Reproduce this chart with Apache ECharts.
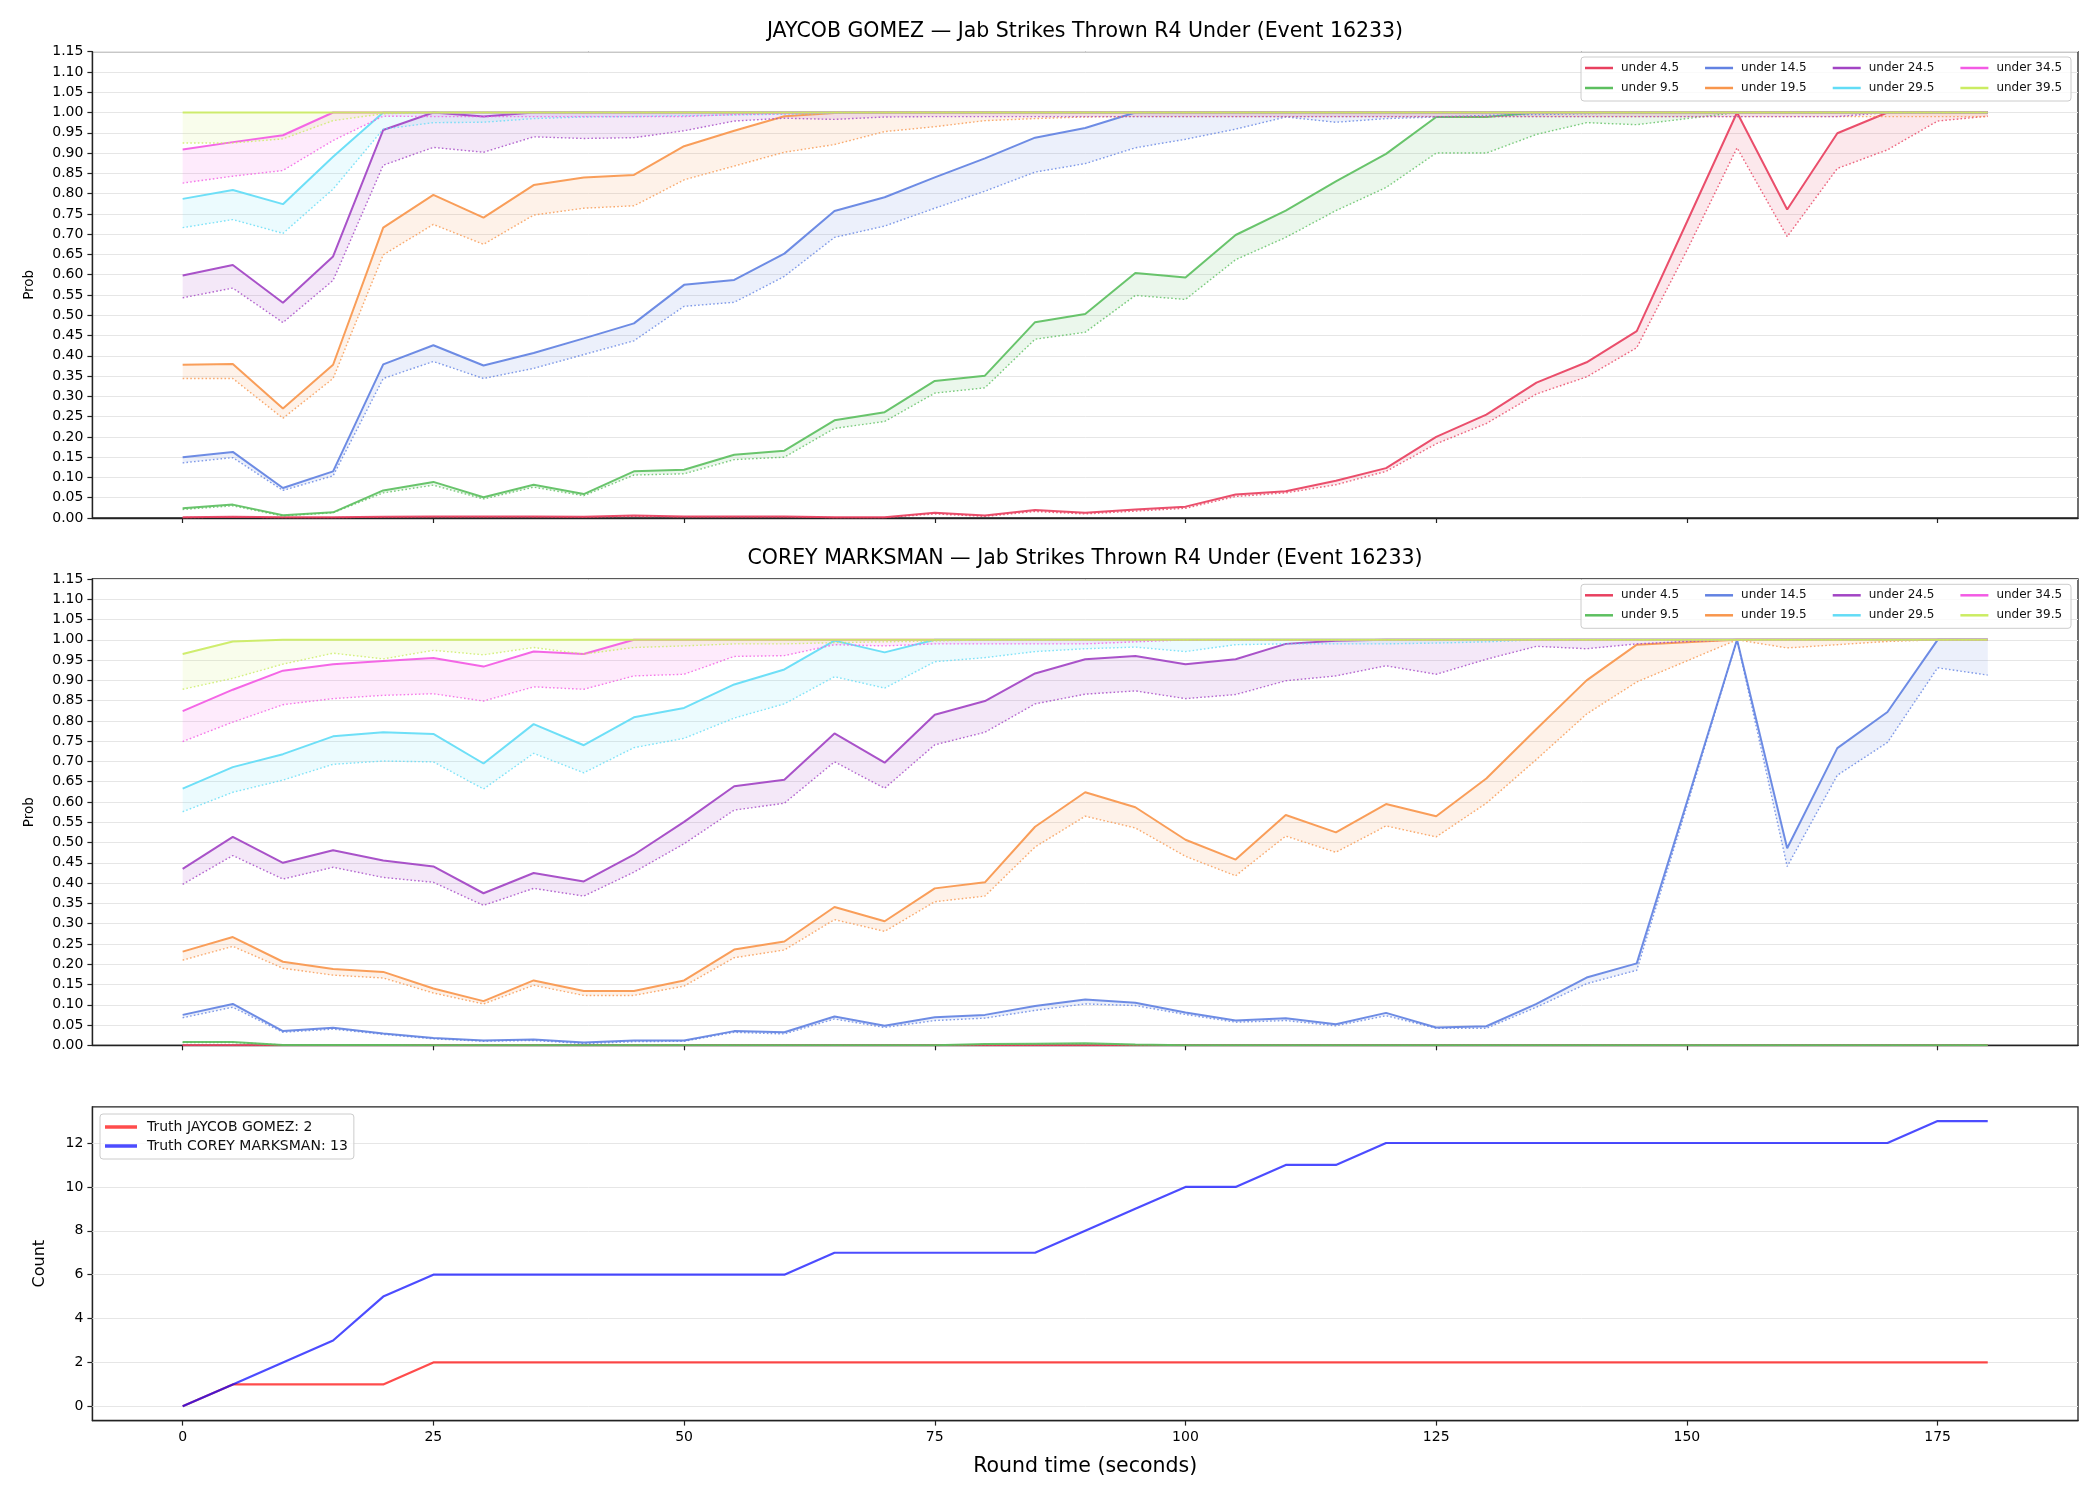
<!DOCTYPE html>
<html>
<head>
<meta charset="utf-8">
<script src="https://cdn.jsdelivr.net/npm/echarts@6/dist/echarts.min.js"></script>
<style>
html, body {margin: 0; padding: 0; background: #fff}
#chart {width: 2100px; height: 1500px}
</style>
</head>
<body>
<div id="chart"></div>
<script>
const rounds = [0, 5, 10, 15, 20, 25, 30, 35, 40, 45, 50, 55, 60, 65, 70, 75, 80, 85, 90, 95, 100, 105, 110, 115, 120, 125, 130, 135, 140, 145, 150, 155, 160, 165, 170, 175, 180]
const xTicks = [0, 25, 50, 75, 100, 125, 150, 175]
const countTicks = [0, 2, 4, 6, 8, 10, 12]

const lineNames = ["under 4.5", "under 9.5", "under 14.5", "under 19.5", "under 24.5", "under 29.5", "under 34.5", "under 39.5"]
const lineColors = ["#e8405f", "#5cbf5f", "#6282e2", "#f8964c", "#a244c4", "#62dcf6", "#f35ae4", "#cbec62"]

// JAYCOB GOMEZ
const gomezU4 = [0.002, 0.003, 0.002, 0.002, 0.003, 0.004, 0.004, 0.004, 0.003, 0.006, 0.004, 0.004, 0.004, 0.002, 0.002, 0.013, 0.006, 0.020, 0.013, 0.021, 0.028, 0.058, 0.066, 0.092, 0.123, 0.200, 0.255, 0.334, 0.384, 0.461, 0.730, 1.000, 0.761, 0.949, 1.000, 1.000, 1.000]
const gomezU4Low = [0.001, 0.002, 0.001, 0.001, 0.002, 0.003, 0.003, 0.003, 0.002, 0.004, 0.003, 0.003, 0.003, 0.001, 0.001, 0.010, 0.004, 0.016, 0.010, 0.017, 0.024, 0.053, 0.062, 0.082, 0.115, 0.183, 0.233, 0.306, 0.348, 0.420, 0.660, 0.913, 0.694, 0.862, 0.908, 0.979, 0.991]
const gomezU9 = [0.024, 0.033, 0.007, 0.014, 0.068, 0.089, 0.051, 0.082, 0.059, 0.115, 0.119, 0.156, 0.166, 0.241, 0.261, 0.338, 0.351, 0.483, 0.503, 0.604, 0.593, 0.698, 0.758, 0.830, 0.898, 0.989, 0.989, 1, 1, 1, 1, 1, 1, 1, 1, 1, 1]
const gomezU9Low = [0.021, 0.030, 0.005, 0.013, 0.062, 0.081, 0.047, 0.076, 0.055, 0.106, 0.109, 0.144, 0.150, 0.221, 0.238, 0.308, 0.321, 0.441, 0.458, 0.549, 0.539, 0.637, 0.692, 0.758, 0.815, 0.900, 0.900, 0.946, 0.975, 0.970, 0.985, 1, 1, 1, 1, 1, 1]
const gomezU14 = [0.150, 0.163, 0.074, 0.115, 0.379, 0.426, 0.376, 0.407, 0.443, 0.480, 0.575, 0.587, 0.652, 0.757, 0.791, 0.840, 0.887, 0.938, 0.962, 1, 1, 1, 1, 1, 1, 1, 1, 1, 1, 1, 1, 1, 1, 1, 1, 1, 1]
const gomezU14Low = [0.136, 0.149, 0.068, 0.104, 0.344, 0.386, 0.344, 0.369, 0.403, 0.437, 0.522, 0.532, 0.596, 0.692, 0.720, 0.764, 0.806, 0.853, 0.874, 0.913, 0.934, 0.959, 0.989, 0.976, 0.985, 0.989, 0.993, 0.995, 0.997, 1, 1, 1, 1, 1, 1, 1, 1]
const gomezU19 = [0.378, 0.380, 0.270, 0.378, 0.716, 0.797, 0.741, 0.821, 0.840, 0.846, 0.917, 0.955, 0.991, 0.999, 1, 1, 1, 1, 1, 1, 1, 1, 1, 1, 1, 1, 1, 1, 1, 1, 1, 1, 1, 1, 1, 1, 1]
const gomezU19Low = [0.344, 0.344, 0.246, 0.344, 0.649, 0.724, 0.675, 0.747, 0.764, 0.770, 0.834, 0.868, 0.902, 0.921, 0.953, 0.965, 0.980, 0.985, 0.989, 0.990, 0.990, 0.990, 0.990, 0.990, 0.990, 0.990, 0.990, 0.990, 0.990, 0.990, 0.990, 0.990, 0.990, 0.990, 0.990, 0.990, 0.990]
const gomezU24 = [0.598, 0.624, 0.531, 0.645, 0.957, 1, 0.990, 1, 1, 1, 1, 1, 1, 1, 1, 1, 1, 1, 1, 1, 1, 1, 1, 1, 1, 1, 1, 1, 1, 1, 1, 1, 1, 1, 1, 1, 1]
const gomezU24Low = [0.543, 0.567, 0.482, 0.586, 0.870, 0.914, 0.902, 0.940, 0.936, 0.938, 0.955, 0.979, 0.986, 0.983, 0.989, 0.990, 0.990, 0.990, 0.990, 0.990, 0.990, 0.990, 0.990, 0.990, 0.990, 0.990, 0.990, 0.990, 0.990, 0.990, 0.990, 0.990, 0.990, 0.990, 1, 1, 1]
const gomezU29 = [0.787, 0.809, 0.774, 0.891, 1, 1, 1, 1, 1, 1, 1, 1, 1, 1, 1, 1, 1, 1, 1, 1, 1, 1, 1, 1, 1, 1, 1, 1, 1, 1, 1, 1, 1, 1, 1, 1, 1]
const gomezU29Low = [0.716, 0.736, 0.702, 0.811, 0.959, 0.975, 0.976, 0.985, 0.989, 0.990, 0.992, 0.994, 0.996, 0.998, 1, 1, 1, 1, 1, 1, 1, 1, 1, 1, 1, 1, 1, 1, 1, 1, 1, 1, 1, 1, 1, 1, 1]
const gomezU34 = [0.909, 0.927, 0.944, 1, 1, 1, 1, 1, 1, 1, 1, 1, 1, 1, 1, 1, 1, 1, 1, 1, 1, 1, 1, 1, 1, 1, 1, 1, 1, 1, 1, 1, 1, 1, 1, 1, 1]
const gomezU34Low = [0.826, 0.843, 0.857, 0.931, 0.991, 0.990, 0.990, 0.990, 0.990, 0.990, 0.990, 0.995, 0.997, 1, 1, 1, 1, 1, 1, 1, 1, 1, 1, 1, 1, 1, 1, 1, 1, 1, 1, 1, 1, 1, 1, 1, 1]
const gomezU39 = [1, 1, 1, 1, 1, 1, 1, 1, 1, 1, 1, 1, 1, 1, 1, 1, 1, 1, 1, 1, 1, 1, 1, 1, 1, 1, 1, 1, 1, 1, 1, 1, 1, 1, 1, 1, 1]
const gomezU39Low = [0.925, 0.925, 0.935, 0.980, 0.997, 1, 1, 1, 1, 1, 1, 1, 1, 1, 1, 1, 1, 1, 1, 1, 1, 1, 1, 1, 1, 1, 1, 1, 1, 1, 1, 1, 1, 1, 1, 1, 1]

// COREY MARKSMAN
const marksU4 = [0, 0, 0, 0, 0, 0, 0, 0, 0, 0, 0, 0, 0, 0, 0, 0, 0, 0, 0, 0, 0, 0, 0, 0, 0, 0, 0, 0, 0, 0, 0, 0, 0, 0, 0, 0, 0]
const marksU4Low = [0, 0, 0, 0, 0, 0, 0, 0, 0, 0, 0, 0, 0, 0, 0, 0, 0, 0, 0, 0, 0, 0, 0, 0, 0, 0, 0, 0, 0, 0, 0, 0, 0, 0, 0, 0, 0]
const marksU9 = [0.008, 0.008, 0.001, 0.001, 0.001, 0, 0, 0, 0, 0, 0, 0, 0, 0, 0, 0, 0.003, 0.004, 0.005, 0.002, 0, 0, 0, 0, 0, 0, 0, 0, 0, 0, 0, 0, 0, 0, 0, 0, 0]
const marksU9Low = [0.007, 0.007, 0.001, 0.001, 0.001, 0, 0, 0, 0, 0, 0, 0, 0, 0, 0, 0, 0.002, 0.003, 0.004, 0.001, 0, 0, 0, 0, 0, 0, 0, 0, 0, 0, 0, 0, 0, 0, 0, 0, 0]
const marksU14 = [0.075, 0.102, 0.035, 0.043, 0.029, 0.018, 0.012, 0.014, 0.007, 0.012, 0.012, 0.035, 0.032, 0.071, 0.048, 0.069, 0.075, 0.097, 0.113, 0.105, 0.081, 0.061, 0.067, 0.052, 0.080, 0.044, 0.047, 0.102, 0.167, 0.202, 0.600, 1.000, 0.486, 0.733, 0.822, 1.000, 1.000]
const marksU14Low = [0.068, 0.094, 0.032, 0.040, 0.027, 0.016, 0.010, 0.012, 0.004, 0.009, 0.010, 0.032, 0.028, 0.065, 0.044, 0.061, 0.067, 0.086, 0.102, 0.098, 0.076, 0.057, 0.061, 0.048, 0.073, 0.042, 0.042, 0.094, 0.152, 0.185, 0.590, 1.000, 0.441, 0.666, 0.747, 0.931, 0.913]
const marksU19 = [0.231, 0.267, 0.206, 0.188, 0.181, 0.140, 0.109, 0.160, 0.134, 0.134, 0.160, 0.236, 0.256, 0.341, 0.306, 0.387, 0.402, 0.539, 0.624, 0.587, 0.507, 0.458, 0.568, 0.525, 0.595, 0.565, 0.658, 0.780, 0.900, 0.988, 0.994, 1, 1, 1, 1, 1, 1]
const marksU19Low = [0.210, 0.244, 0.190, 0.173, 0.166, 0.129, 0.102, 0.148, 0.123, 0.123, 0.146, 0.216, 0.235, 0.310, 0.281, 0.354, 0.368, 0.489, 0.565, 0.536, 0.466, 0.418, 0.516, 0.476, 0.541, 0.514, 0.597, 0.705, 0.817, 0.896, 0.948, 1.000, 0.980, 0.988, 0.996, 1, 1]
const marksU24 = [0.435, 0.514, 0.450, 0.481, 0.456, 0.441, 0.375, 0.425, 0.404, 0.470, 0.551, 0.639, 0.655, 0.769, 0.697, 0.815, 0.849, 0.917, 0.952, 0.960, 0.940, 0.952, 0.990, 0.998, 1, 1, 1, 1, 1, 1, 1, 1, 1, 1, 1, 1, 1]
const marksU24Low = [0.397, 0.468, 0.410, 0.439, 0.414, 0.402, 0.345, 0.387, 0.368, 0.427, 0.497, 0.580, 0.597, 0.699, 0.634, 0.741, 0.772, 0.842, 0.866, 0.874, 0.855, 0.865, 0.899, 0.911, 0.936, 0.915, 0.952, 0.984, 0.978, 0.990, 0.996, 1, 1, 1, 1, 1, 1]
const marksU29 = [0.633, 0.686, 0.718, 0.762, 0.772, 0.768, 0.695, 0.792, 0.740, 0.809, 0.832, 0.890, 0.927, 0.998, 0.969, 1, 1, 1, 1, 1, 1, 1, 1, 1, 1, 1, 1, 1, 1, 1, 1, 1, 1, 1, 1, 1, 1]
const marksU29Low = [0.576, 0.624, 0.654, 0.693, 0.701, 0.699, 0.632, 0.720, 0.672, 0.734, 0.757, 0.807, 0.842, 0.909, 0.881, 0.946, 0.956, 0.971, 0.978, 0.982, 0.971, 0.988, 0.990, 0.990, 0.990, 0.992, 0.995, 1, 1, 1, 1, 1, 1, 1, 1, 1, 1]
const marksU34 = [0.824, 0.877, 0.924, 0.940, 0.948, 0.955, 0.934, 0.971, 0.965, 1, 1, 1, 1, 1, 1, 1, 1, 1, 1, 1, 1, 1, 1, 1, 1, 1, 1, 1, 1, 1, 1, 1, 1, 1, 1, 1, 1]
const marksU34Low = [0.749, 0.797, 0.840, 0.855, 0.863, 0.867, 0.849, 0.884, 0.878, 0.911, 0.915, 0.959, 0.961, 0.988, 0.985, 0.990, 0.990, 0.990, 0.990, 0.995, 1, 1, 1, 1, 1, 1, 1, 1, 1, 1, 1, 1, 1, 1, 1, 1, 1]
const marksU39 = [0.965, 0.996, 1, 1, 1, 1, 1, 1, 1, 1, 1, 1, 1, 1, 1, 1, 1, 1, 1, 1, 1, 1, 1, 1, 1, 1, 1, 1, 1, 1, 1, 1, 1, 1, 1, 1, 1]
const marksU39Low = [0.878, 0.905, 0.940, 0.967, 0.953, 0.974, 0.963, 0.981, 0.965, 0.981, 0.985, 0.990, 0.990, 0.993, 0.995, 0.997, 1, 1, 1, 1, 1, 1, 1, 1, 1, 1, 1, 1, 1, 1, 1, 1, 1, 1, 1, 1, 1]

// truth counts
const truthGomez = [0, 1, 1, 1, 1, 2, 2, 2, 2, 2, 2, 2, 2, 2, 2, 2, 2, 2, 2, 2, 2, 2, 2, 2, 2, 2, 2, 2, 2, 2, 2, 2, 2, 2, 2, 2, 2]
const truthMarksman = [0, 1, 2, 3, 5, 6, 6, 6, 6, 6, 6, 6, 6, 7, 7, 7, 7, 7, 8, 9, 10, 10, 11, 11, 12, 12, 12, 12, 12, 12, 12, 12, 12, 12, 12, 13, 13]

const gomezMain = [gomezU4, gomezU9, gomezU14, gomezU19, gomezU24, gomezU29, gomezU34, gomezU39]
const gomezLow = [gomezU4Low, gomezU9Low, gomezU14Low, gomezU19Low, gomezU24Low, gomezU29Low, gomezU34Low, gomezU39Low]
const marksMain = [marksU4, marksU9, marksU14, marksU19, marksU24, marksU29, marksU34, marksU39]
const marksLow = [marksU4Low, marksU9Low, marksU14Low, marksU19Low, marksU24Low, marksU29Low, marksU34Low, marksU39Low]

const FONT = "DejaVu Sans"

function pairs(values) {
	return rounds.map((t, i) => [t, values[i]])
}

// shaded band between the lower and upper line, one polygon per band
function bandSeries(idx, main, low, color) {
	return {
		type: "custom", xAxisIndex: idx, yAxisIndex: idx, silent: true, z: 2,
		data: rounds.map((t, i) => [t, main[i], low[i]]),
		encode: {x: 0, y: [1, 2]},
		renderItem: function (params, api) {
			if (params.dataIndex !== 0)
				return null
			let top = rounds.map((t, i) => api.coord([t, main[i]]))
			let bottom = rounds.map((t, i) => api.coord([t, low[i]])).reverse()
			return {
				type: "polygon",
				shape: {points: top.concat(bottom)},
				style: {fill: color, opacity: 0.12}
			}
		}
	}
}

function panelSeries(idx, mains, lows) {
	let out = []
	for (let k = 0; k < lineNames.length; k++) {
		let main = mains[k], low = lows[k], color = lineColors[k]
		out.push(bandSeries(idx, main, low, color))
		out.push({
			name: lineNames[k], type: "line", xAxisIndex: idx, yAxisIndex: idx, symbol: "none",
			data: pairs(main), lineStyle: {color: color, width: 2, opacity: 0.92}, itemStyle: {color: color}, z: 3
		})
		out.push({
			type: "line", xAxisIndex: idx, yAxisIndex: idx, symbol: "none", silent: true,
			data: pairs(low), lineStyle: {color: color, width: 1.4, type: [1.6, 2.2], opacity: 0.8}, z: 3
		})
	}
	return out
}

function xAxisFor(idx, withLabels) {
	return {
		gridIndex: idx, type: "value", min: -9, max: 189,
		axisLine: {show: true, onZero: false, lineStyle: {color: "#222", width: 1.3}},
		axisTick: {show: true, length: 5, customValues: xTicks, lineStyle: {color: "#222", width: 1.2}},
		axisLabel: {show: withLabels, customValues: xTicks, fontFamily: FONT, fontSize: 14, color: "#000", margin: 10},
		splitLine: {show: false},
		name: withLabels ? "Round time (seconds)" : "",
		nameLocation: "middle", nameGap: 36,
		nameTextStyle: {fontFamily: FONT, fontSize: 20.5, color: "#000"}
	}
}

function probAxis(idx) {
	return {
		gridIndex: idx, type: "value", min: 0, max: 1.15, interval: 0.05,
		axisLine: {show: true, onZero: false, lineStyle: {color: "#222", width: 1.3}},
		axisTick: {show: true, length: 5, lineStyle: {color: "#222", width: 1.2}},
		axisLabel: {fontFamily: FONT, fontSize: 14, color: "#000", margin: 9, formatter: v => v.toFixed(2)},
		splitLine: {show: true, lineStyle: {color: "#e6e6e6", width: 1}},
		name: "Prob", nameLocation: "middle", nameGap: 56,
		nameTextStyle: {fontFamily: FONT, fontSize: 13.5, color: "#000"}
	}
}

function probLegend(top, data) {
	return {
		data: data, left: 1585, top: top, orient: "horizontal", padding: 0, itemGap: 26,
		icon: "rect", itemWidth: 28, itemHeight: 2.5, z: 10, selectedMode: false,
		textStyle: {fontFamily: FONT, fontSize: 12, color: "#111", padding: [0, 0, 0, 3]}
	}
}

function legendFrame(y) {
	return {
		type: "rect", z: 5, silent: true,
		shape: {x: 1581, y: y, width: 490, height: 44, r: 3},
		style: {fill: "rgba(255,255,255,0.8)", stroke: "#cccccc", lineWidth: 1}
	}
}

const row1 = [lineNames[0], lineNames[2], lineNames[4], lineNames[6]]
const row2 = [lineNames[1], lineNames[3], lineNames[5], lineNames[7]]
const shift = 527.3

let series = [].concat(panelSeries(0, gomezMain, gomezLow), panelSeries(1, marksMain, marksLow))

// grid lines of the count panel, at the tick values only
series.push({
	type: "line", xAxisIndex: 2, yAxisIndex: 2, symbol: "none", silent: true, z: 1,
	data: pairs(truthGomez), lineStyle: {opacity: 0},
	markLine: {
		silent: true, symbol: "none", label: {show: false}, animation: false, z: 1,
		lineStyle: {color: "#e6e6e6", width: 1, type: "solid"},
		data: countTicks.map(v => ({yAxis: v}))
	}
})
series.push({
	name: "Truth JAYCOB GOMEZ: 2", type: "line", xAxisIndex: 2, yAxisIndex: 2, symbol: "none", z: 3,
	data: pairs(truthGomez), lineStyle: {color: "rgba(255,0,0,0.7)", width: 2.2}, itemStyle: {color: "rgba(255,0,0,0.7)"}
})
series.push({
	name: "Truth COREY MARKSMAN: 13", type: "line", xAxisIndex: 2, yAxisIndex: 2, symbol: "none", z: 3,
	data: pairs(truthMarksman), lineStyle: {color: "rgba(0,0,255,0.7)", width: 2.2}, itemStyle: {color: "rgba(0,0,255,0.7)"}
})

const titleStyle = {fontFamily: FONT, fontSize: 20.5, fontWeight: "normal", color: "#000"}

let option = {
	animation: false,
	backgroundColor: "#fff",
	title: [
		{text: "JAYCOB GOMEZ — Jab Strikes Thrown R4 Under (Event 16233)", left: 1085, top: 21, textAlign: "center", padding: 0, textStyle: titleStyle},
		{text: "COREY MARKSMAN — Jab Strikes Thrown R4 Under (Event 16233)", left: 1085, top: 21 + shift, textAlign: "center", padding: 0, textStyle: titleStyle}
	],
	grid: [
		{left: 92.4, right: 22, top: 51.7, height: 466.3, show: true, borderColor: "#222", borderWidth: 1.3, backgroundColor: "transparent"},
		{left: 92.4, right: 22, top: 51.7 + shift, height: 466.3, show: true, borderColor: "#222", borderWidth: 1.3, backgroundColor: "transparent"},
		{left: 92.4, right: 22, top: 1106.8, height: 313.8, show: true, borderColor: "#222", borderWidth: 1.3, backgroundColor: "transparent"}
	],
	xAxis: [xAxisFor(0, false), xAxisFor(1, false), xAxisFor(2, true)],
	yAxis: [
		probAxis(0),
		probAxis(1),
		{
			gridIndex: 2, type: "value", min: -0.65, max: 13.65,
			axisLine: {show: true, onZero: false, lineStyle: {color: "#222", width: 1.3}},
			axisTick: {show: true, length: 5, customValues: countTicks, lineStyle: {color: "#222", width: 1.2}},
			axisLabel: {customValues: countTicks, fontFamily: FONT, fontSize: 14, color: "#000", margin: 9},
			splitLine: {show: false},
			name: "Count", nameLocation: "middle", nameGap: 45,
			nameTextStyle: {fontFamily: FONT, fontSize: 16, color: "#000"}
		}
	],
	legend: [
		probLegend(62, row1),
		probLegend(82, row2),
		probLegend(62 + shift, row1),
		probLegend(82 + shift, row2),
		{
			data: ["Truth JAYCOB GOMEZ: 2", "Truth COREY MARKSMAN: 13"], orient: "vertical",
			left: 100, top: 1114, padding: [6, 6, 6, 5], itemGap: 5, itemWidth: 32, itemHeight: 3.5,
			icon: "rect", selectedMode: false, z: 10,
			backgroundColor: "rgba(255,255,255,0.8)", borderColor: "#cccccc", borderWidth: 1, borderRadius: 3,
			textStyle: {fontFamily: FONT, fontSize: 14, color: "#111", padding: [0, 0, 0, 5]}
		}
	],
	graphic: {elements: [legendFrame(57), legendFrame(57 + shift)]},
	series: series
}

let chart = echarts.init(document.getElementById("chart"), null, {renderer: "canvas"})
chart.setOption(option)
window.onresize = chart.resize
</script>
</body>
</html>
